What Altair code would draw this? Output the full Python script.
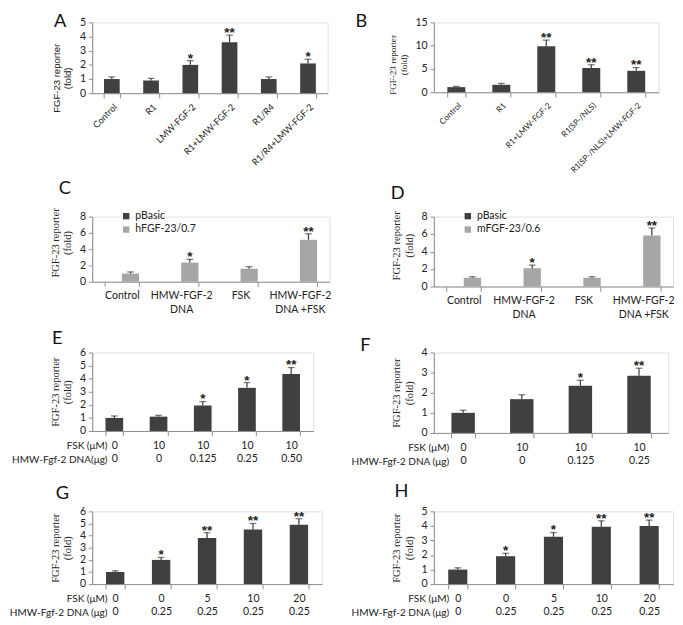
import altair as alt
import pandas as pd

DARK = "#404040"
LIGHT = "#a6a6a6"
AXIS = "#8a8a8a"
TXT = "#222222"
SANS = "Lato"
SERIF = "Liberation Serif"

# ---- Panel A
a_cats = ["Control", "R1", "LMW-FGF-2", "R1+LMW-FGF-2", "R1/R4", "R1/R4+LMW-FGF-2"]
a_vals = [1.0, 0.9, 2.0, 3.6, 1.0, 2.1]
a_errs = [0.15, 0.15, 0.3, 0.5, 0.15, 0.3]
a_sig = ["", "", "*", "**", "", "*"]

# ---- Panel B
b_cats = ["Control", "R1", "R1+LMW-FGF-2", "R1(SP-/NLS)", "R1(SP-/NLS)+LMW-FGF-2"]
b_vals = [1.1, 1.6, 9.9, 5.2, 4.6]
b_errs = [0.15, 0.3, 1.3, 0.7, 0.7]
b_sig = ["", "", "**", "**", "**"]

# ---- Panels C / D
cd_cats = ["Control", "HMW-FGF-2\nDNA", "FSK", "HMW-FGF-2\nDNA +FSK"]
c_series = ["pBasic", "hFGF-23/0.7"]
c_vals = [1.0, 2.35, 1.6, 5.15]
c_errs = [0.2, 0.4, 0.25, 0.75]
c_sig = ["", "*", "", "**"]
d_series = ["pBasic", "mFGF-23/0.6"]
d_vals = [1.0, 2.1, 1.0, 5.85]
d_errs = [0.12, 0.35, 0.12, 0.85]
d_sig = ["", "*", "", "**"]

# ---- Panel E
e_fsk = ["0", "10", "10", "10", "10"]
e_dna = ["0", "0", "0.125", "0.25", "0.50"]
e_vals = [1.0, 1.1, 1.95, 3.3, 4.35]
e_errs = [0.15, 0.1, 0.3, 0.4, 0.5]
e_sig = ["", "", "*", "*", "**"]
e_rows = ["FSK (μM)", "HMW-Fgf-2 DNA(μg)"]

# ---- Panel F
f_fsk = ["0", "10", "10", "10"]
f_dna = ["0", "0", "0.125", "0.25"]
f_vals = [1.0, 1.68, 2.35, 2.85]
f_errs = [0.13, 0.22, 0.27, 0.37]
f_sig = ["", "", "*", "**"]
f_rows = ["FSK (μM)", "HMW-Fgf-2 DNA (μg)"]

# ---- Panel G
g_fsk = ["0", "0", "5", "10", "20"]
g_dna = ["0", "0.25", "0.25", "0.25", "0.25"]
g_vals = [1.0, 2.0, 3.8, 4.5, 4.9]
g_errs = [0.1, 0.2, 0.45, 0.5, 0.5]
g_sig = ["", "*", "**", "**", "**"]
g_rows = ["FSK (μM)", "HMW-Fgf-2 DNA (μg)"]

# ---- Panel H
h_fsk = ["0", "0", "5", "10", "20"]
h_dna = ["0", "0.25", "0.25", "0.25", "0.25"]
h_vals = [1.0, 1.92, 3.25, 3.95, 4.0]
h_errs = [0.12, 0.2, 0.3, 0.4, 0.4]
h_sig = ["", "*", "*", "**", "**"]
h_rows = ["FSK (μM)", "HMW-Fgf-2 DNA (μg)"]

YTITLE = ["FGF-23  reporter", "(fold)"]


def yenc(field, ymax, step, tfont, tsize, ty):
    kw = dict(values=list(range(0, ymax + 1, step)), title=YTITLE,
              titleFont=tfont, titleFontSize=tsize, titleFontWeight="normal",
              titleColor=TXT, titlePadding=7, labelFont=SANS, labelFontSize=11,
              labelColor=TXT, domainColor=AXIS, tickColor=AXIS, tickSize=4,
              labelPadding=3, grid=False)
    if ty is not None:
        kw["titleY"] = ty
    return alt.Y(field, scale=alt.Scale(domain=[0, ymax], nice=False), axis=alt.Axis(**kw))


def xaxis(angle, fs):
    return alt.Axis(title=None, labelAngle=angle, labelFont=SANS, labelFontSize=fs,
                    labelColor=TXT, domainColor=AXIS, tickColor=AXIS, tickSize=5,
                    tickBand="extent", labelPadding=4,
                    labelExpr="split(datum.label, '\\n')", labelLineHeight=14)


def letter_layer(letter, lx, ly, color="#111"):
    return alt.Chart(pd.DataFrame({"t": [letter]})).mark_text(
        align="left", baseline="alphabetic", font=SANS, fontSize=19, color=color).encode(
        text="t:N", x=alt.value(lx), y=alt.value(ly))


def star_layer(base, x, y, xo=None):
    enc = dict(x=x, y=y, text="sig:N")
    if xo is not None:
        enc["xOffset"] = xo
    return base.mark_text(dy=2, baseline="alphabetic", fontSize=14, fontWeight="bold",
                          font="Liberation Sans", color=TXT).encode(**enc)


def simple_panel(cats, vals, errs, sig, letter, w, h, ymax, step, ytitle, angle, xfs, lpos,
                 rows=None, spacer=None):
    df = pd.DataFrame({"cat": cats, "val": vals,
                       "top": [v + e for v, e in zip(vals, errs)], "sig": sig})
    xs = alt.X("cat:N", sort=cats, scale=alt.Scale(paddingInner=0.6, paddingOuter=0.3),
               axis=xaxis(angle, xfs))
    base = alt.Chart(df)
    bars = base.mark_bar(color=DARK).encode(x=xs, y=yenc("val:Q", ymax, step, *ytitle))
    rule = base.mark_rule(color=DARK, strokeWidth=1.3).encode(
        x=xs, y=yenc("val:Q", ymax, step, *ytitle), y2="top:Q")
    cap = base.mark_tick(color=DARK, size=7, thickness=1.3, orient="horizontal").encode(
        x=xs, y=yenc("top:Q", ymax, step, *ytitle))
    stars = star_layer(base, xs, yenc("top:Q", ymax, step, *ytitle))
    layers = [bars, rule, cap, stars, letter_layer(letter, *lpos)]
    if spacer is not None:
        # transparent glyph that only reserves vertical room above the panel
        layers.append(letter_layer(" ", w / 2, spacer, "rgba(255,255,255,0)"))
    if rows:
        for i, r in enumerate(rows):
            layers.append(alt.Chart(pd.DataFrame({"t": [r]})).mark_text(
                align="right", baseline="middle", font=SANS, fontSize=10.5, color=TXT).encode(
                text="t:N", x=alt.value(16), y=alt.value(h + 16 + 14 * i)))
    return alt.layer(*layers).properties(width=w, height=h)


def group_panel(cats, series, vals, errs, sig, letter, w, h, ytitle, lpos):
    df = pd.DataFrame({"cat": cats, "series": [series[1]] * len(cats), "val": vals,
                       "top": [v + e for v, e in zip(vals, errs)], "sig": sig})
    xs = alt.X("cat:N", sort=cats, scale=alt.Scale(paddingInner=0.42, paddingOuter=0.21),
               axis=xaxis(0, 11))
    xo = alt.XOffset("series:N", sort=series, scale=alt.Scale(domain=series, paddingInner=0))
    base = alt.Chart(df)
    bars = base.mark_bar().encode(
        x=xs, xOffset=xo, y=yenc("val:Q", 8, 2, *ytitle),
        color=alt.Color("series:N", scale=alt.Scale(domain=series, range=[DARK, LIGHT]),
                        legend=alt.Legend(orient="none", legendX=30, legendY=-6, title=None,
                                          symbolType="square", symbolSize=45,
                                          symbolStrokeWidth=0, labelFont=SANS,
                                          labelFontSize=11, labelColor=TXT, rowPadding=2)))
    rule = base.mark_rule(color=DARK, strokeWidth=1.3).encode(
        x=xs, xOffset=xo, y=yenc("val:Q", 8, 2, *ytitle), y2="top:Q")
    cap = base.mark_tick(color=DARK, size=7, thickness=1.3, orient="horizontal").encode(
        x=xs, xOffset=xo, y=yenc("top:Q", 8, 2, *ytitle))
    stars = star_layer(base, xs, yenc("top:Q", 8, 2, *ytitle), xo)
    return alt.layer(bars, rule, cap, stars, letter_layer(letter, *lpos)).properties(
        width=w, height=h)


def keys(a, b):
    return [f"{x}\n{y}" for x, y in zip(a, b)]


pA = simple_panel(a_cats, a_vals, a_errs, a_sig, "A", 246, 74, 5, 1,
                  ("Liberation Sans", 10, 58), -45, 9.5, (-40, 5))
pB = simple_panel(b_cats, b_vals, b_errs, b_sig, "B", 235, 73, 15, 5,
                  (SERIF, 9.5, 44), -45, 8.5, (-82, 5))
pC = group_panel(cd_cats, c_series, c_vals, c_errs, c_sig, "C", 248, 68,
                 (SERIF, 11, 27), (-35, -24))
pD = group_panel(cd_cats, d_series, d_vals, d_errs, d_sig, "D", 250, 73,
                 (SERIF, 11, 30), (-45, -18))
pE = simple_panel(keys(e_fsk, e_dna), e_vals, e_errs, e_sig, "E", 231, 82, 6, 1,
                  (SERIF, 11, None), 0, 11, (-42, -9), e_rows, spacer=-14)
pF = simple_panel(keys(f_fsk, f_dna), f_vals, f_errs, f_sig, "F", 245, 84, 4, 1,
                  (SERIF, 11, None), 0, 11, (-77, -2), f_rows)
pG = simple_panel(keys(g_fsk, g_dna), g_vals, g_errs, g_sig, "G", 240, 76, 6, 1,
                  (SERIF, 11, None), 0, 11, (-38, -13), g_rows, spacer=-26)
pH = simple_panel(keys(h_fsk, h_dna), h_vals, h_errs, h_sig, "H", 250, 76, 5, 1,
                  (SERIF, 11, None), 0, 11, (-41, -15), h_rows)

chart = alt.concat(pA, pB, pC, pD, pE, pF, pG, pH, columns=2, align="each",
                   spacing={"row": 4, "column": 19}).resolve_scale(
    x="independent", y="independent", color="independent", xOffset="independent"
).properties(padding={"left": 0, "top": -10, "right": 0, "bottom": 0}).configure_view(
    stroke=None).configure(background="white")

chart.save("out.html", embed_options={"renderer": "svg", "actions": False})
